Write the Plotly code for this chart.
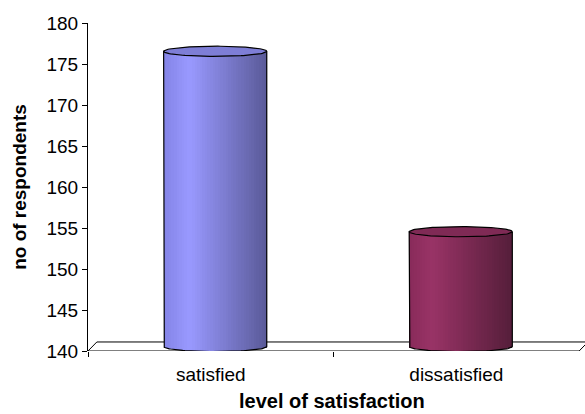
import numpy as np
import plotly.graph_objects as go

categories = ["satisfied", "dissatisfied"]
values = [176, 154]
y_ticks = [140, 145, 150, 155, 160, 165, 170, 175, 180]
x_title = "level of satisfaction"
y_title = "no of respondents"

# style / geometry
FONT = "Liberation Sans, Arial, sans-serif"
BASE = 140
DX, DY = 0.036, 1.1          # 3D depth shift (x units, y units)
BAR_W = 0.42                 # cylinder width in category units
RY = 0.62                    # ellipse half-height in y units
N = 40                       # gradient strips

light = {"satisfied": [(0.0, (0x84, 0x84, 0xE6)), (0.25, (0x99, 0x99, 0xFF)), (1.0, (0x5A, 0x5A, 0x98))],
         "dissatisfied": [(0.0, (0x88, 0x2B, 0x5A)), (0.22, (0x99, 0x33, 0x66)), (1.0, (0x55, 0x1E, 0x3A))]}
top_fill = {"satisfied": "#7E7ED6", "dissatisfied": "#7F2A55"}


def grad(stops, u):
    for (u0, c0), (u1, c1) in zip(stops[:-1], stops[1:]):
        if u0 <= u <= u1:
            t = (u - u0) / (u1 - u0)
            c = [round(a + (b - a) * t) for a, b in zip(c0, c1)]
            return "rgb(%d,%d,%d)" % tuple(c)
    return "rgb(%d,%d,%d)" % stops[-1][1]


fig = go.Figure()
xs = np.arange(len(categories), dtype=float)
XMIN, XMAX = -0.5, len(categories) - 0.5

# floor (below traces)
fig.add_shape(type="path", xref="x", yref="y", layer="below",
              path="M %f,%f L %f,%f L %f,%f L %f,%f Z" % (
                  XMIN, BASE, XMIN + DX, BASE + DY, XMAX + DX, BASE + DY, XMAX, BASE),
              line=dict(color="black", width=1), fillcolor="white")

# cylinder bodies as gradient strips
sw = BAR_W / N
for i in range(N):
    u = (i + 0.5) / N
    off = DX / 2 - BAR_W / 2 + i * sw
    uc = 2 * u - 1
    bottom = BASE + DY / 2 - RY * np.sqrt(max(0.0, 1 - uc * uc))
    tops = [v + DY / 2 for v in values]
    fig.add_trace(go.Bar(
        x=xs, y=[t - bottom for t in tops], base=bottom, width=sw * 1.05, offset=off,
        marker=dict(color=[grad(light[c], u) for c in categories], line=dict(width=0)),
        hoverinfo="skip", showlegend=False))

# outlines and top ellipses
th = np.linspace(0, 2 * np.pi, 121)
for xc, v, c in zip(xs, values, categories):
    cx = xc + DX / 2
    cy_top = v + DY / 2
    cy_bot = BASE + DY / 2
    ex = cx + BAR_W / 2 * np.cos(th)
    fig.add_trace(go.Scatter(x=ex, y=cy_top + RY * np.sin(th), mode="lines", fill="toself",
                             fillcolor=top_fill[c], line=dict(color="black", width=1.2),
                             hoverinfo="skip", showlegend=False))
    th2 = np.linspace(np.pi, 2 * np.pi, 61)
    bx = list(cx + BAR_W / 2 * np.cos(th2))
    by = list(cy_bot + RY * np.sin(th2))
    px = [cx - BAR_W / 2] + bx + [cx + BAR_W / 2]
    py = [cy_top] + by + [cy_top]
    fig.add_trace(go.Scatter(x=px, y=py, mode="lines", line=dict(color="black", width=1.2),
                             hoverinfo="skip", showlegend=False))

fig.add_annotation(text="<b>%s</b>" % x_title, xref="paper", yref="paper",
                   x=0.49, y=-0.19, xanchor="center", yanchor="bottom", borderpad=0,
                   showarrow=False, font=dict(size=20))

fig.update_layout(
    width=585, height=414,
    margin=dict(l=88, r=0, t=23, b=63),
    paper_bgcolor="white", plot_bgcolor="white",
    font=dict(family=FONT, size=19, color="black"),
    barmode="overlay", bargap=0,
    xaxis=dict(range=[XMIN, XMAX + 0.024], tickvals=xs, ticktext=categories, ticks="",
               showline=False, showgrid=False, zeroline=False, automargin=False,
               ticklabelstandoff=10,
               minor=dict(tickvals=[XMIN, 0.5], ticks="outside", ticklen=5,
                          tickcolor="black", showgrid=False)),
    yaxis=dict(range=[140, 180], tickvals=y_ticks, ticks="outside", ticklen=5,
               tickcolor="black", showline=True, linecolor="black", linewidth=1,
               showgrid=False, zeroline=False, automargin=False,
               title=dict(text="<b>%s</b>" % y_title, standoff=14,
                          font=dict(size=19))),
)

fig.write_html("out.html")
